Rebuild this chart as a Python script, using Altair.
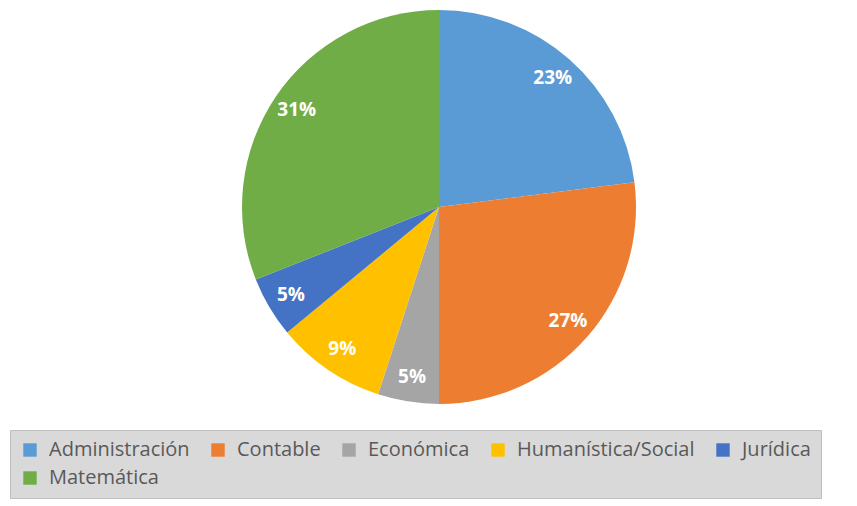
import altair as alt
import pandas as pd

categories = ["Administración", "Contable", "Económica", "Humanística/Social", "Jurídica", "Matemática"]
percentages = [23, 27, 5, 9, 5, 31]
colors = ["#5B9BD5", "#ED7D31", "#A5A5A5", "#FFC000", "#4472C4", "#70AD47"]
labels = [f"{p}%" for p in percentages]

df = pd.DataFrame({
    "area": categories,
    "pct": percentages,
    "label": labels,
    "idx": list(range(len(categories))),
})

legend = alt.Legend(
    orient="none",
    legendX=-19,
    legendY=422,
    columns=5,
    direction="horizontal",
    symbolType="square",
    symbolSize=180,
    symbolStrokeWidth=0,
    labelFont="Open Sans",
    labelFontSize=20,
    labelColor="#595959",
    labelOffset=9,
    labelLimit=300,
    columnPadding=18,
    rowPadding=8,
    fillColor="#d9d9d9",
    strokeColor="#bfbfbf",
    padding=10,
)

base = alt.Chart(df).encode(
    theta=alt.Theta("pct:Q", stack=True),
    order=alt.Order("idx:Q"),
)

pie = base.mark_arc(outerRadius=197).encode(
    color=alt.Color("area:N", title=None,
                    scale=alt.Scale(domain=categories, range=colors),
                    sort=categories, legend=legend),
)

text = base.mark_text(radius=172, font="Open Sans", fontSize=19, fontWeight="bold").encode(
    text="label:N",
    color=alt.value("white"),
)

chart = (pie + text).properties(
    width=820,
    height=398,
    padding={"left": 21, "top": 0, "right": 0, "bottom": 100},
    autosize="none",
).configure_view(strokeWidth=0)

chart.save("out.html", embed_options={"renderer": "svg", "actions": False})
